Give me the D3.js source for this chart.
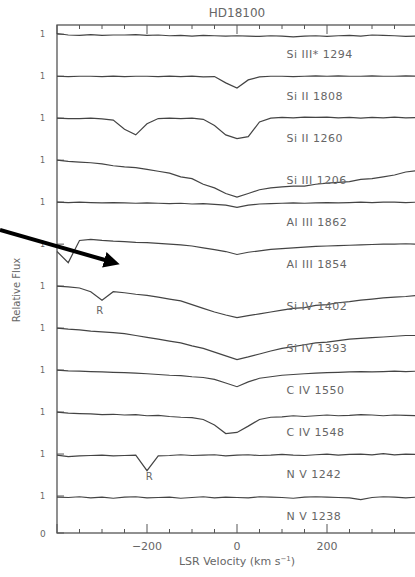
<!DOCTYPE html><html><head><meta charset="utf-8">
<script src="https://cdn.jsdelivr.net/npm/d3@7"></script>
<style>body{margin:0;background:#fff}text{font-family:"DejaVu Sans",sans-serif;fill:#666}</style></head><body>
<svg id="c" width="415" height="577"></svg>
<script>
const velocities=d3.range(-400,401,25);
const lineNames=["Si III* 1294","Si II 1808","Si II 1260","Si III 1206","Al III 1862","Al III 1854","Si IV 1402","Si IV 1393","C IV 1550","C IV 1548","N V 1242","N V 1238"];
const fluxSiIIIs1294=[1.02,0.98,0.97,0.99,0.97,0.98,0.98,0.99,0.97,0.98,0.96,0.97,0.95,0.97,0.96,0.95,0.96,0.95,0.94,0.96,0.95,0.93,0.95,0.96,0.94,0.96,0.97,0.95,0.98,0.97,0.96,0.94,0.95];
const fluxSiII1808=[1,0.99,1,1,0.99,1,0.99,1,1,0.99,1,0.99,1,0.98,0.99,0.82,0.68,0.9,0.98,1,1,0.99,1,1.01,1,1.01,1,1,1.01,1,1,1.01,1];
const fluxSiII1260=[1,0.99,0.99,1,0.98,0.95,0.7,0.55,0.85,0.99,1,0.99,1,0.97,0.8,0.55,0.45,0.5,0.9,1.0,1.02,1.01,1.03,1.02,1.03,1.01,1.02,1.0,1.02,1.01,1.03,1.01,1.02];
const fluxSiIII1206=[1.0,0.97,0.95,0.93,0.9,0.85,0.82,0.8,0.75,0.7,0.65,0.55,0.5,0.35,0.25,0.1,0.0,0.1,0.2,0.25,0.28,0.3,0.3,0.35,0.38,0.4,0.42,0.48,0.5,0.55,0.6,0.68,0.72];
const fluxAlIII1862=[1,0.99,1,0.99,0.98,0.99,0.98,0.97,0.98,0.97,0.96,0.97,0.95,0.96,0.94,0.92,0.86,0.92,0.95,0.96,0.97,0.98,0.97,0.98,0.99,0.98,0.99,1,0.99,1,1,0.99,1];
const fluxAlIII1854=[0.8,0.5,1.1,1.13,1.1,1.08,1.07,1.05,1.04,1.02,1.0,0.98,0.95,0.9,0.85,0.8,0.72,0.78,0.82,0.86,0.88,0.9,0.92,0.94,0.95,0.96,0.97,0.98,0.99,1,1,1.01,1];
const fluxSiIV1402=[1.0,0.98,0.95,0.85,0.62,0.85,0.82,0.78,0.75,0.7,0.65,0.6,0.5,0.4,0.3,0.22,0.15,0.2,0.25,0.3,0.35,0.4,0.42,0.48,0.5,0.55,0.58,0.62,0.65,0.68,0.7,0.72,0.75];
const fluxSiIV1393=[1.0,0.97,0.95,0.92,0.9,0.88,0.85,0.8,0.75,0.7,0.65,0.6,0.52,0.45,0.35,0.25,0.15,0.22,0.3,0.38,0.45,0.5,0.55,0.6,0.62,0.66,0.7,0.72,0.74,0.76,0.78,0.8,0.8];
const fluxCIV1550=[1,0.98,0.97,0.96,0.95,0.94,0.93,0.92,0.9,0.88,0.86,0.85,0.82,0.8,0.75,0.65,0.55,0.68,0.78,0.82,0.86,0.88,0.9,0.92,0.93,0.94,0.95,0.96,0.95,0.96,0.97,0.96,0.97];
const fluxCIV1548=[1,0.97,0.96,0.95,0.93,0.94,0.92,0.93,0.9,0.91,0.88,0.86,0.85,0.8,0.65,0.42,0.45,0.62,0.8,0.86,0.87,0.9,0.88,0.9,0.92,0.9,0.91,0.93,0.92,0.9,0.92,0.91,0.9];
const fluxNV1242=[0.97,0.93,0.95,0.96,0.97,0.95,0.96,0.97,0.55,0.95,0.96,0.98,0.96,0.97,0.98,0.95,0.97,0.98,0.96,0.97,0.99,0.97,0.96,0.98,1.0,0.97,0.99,1.0,0.98,1.01,0.98,1.0,0.99];
const fluxNV1238=[0.97,0.96,0.98,0.95,0.97,0.94,0.97,0.98,0.95,0.96,0.97,0.94,0.96,0.98,0.95,0.97,0.96,0.95,0.98,0.97,0.96,0.94,0.97,0.98,0.97,0.96,0.95,0.9,0.96,0.98,0.97,0.95,0.97];
const allFlux=[fluxSiIIIs1294,fluxSiII1808,fluxSiII1260,fluxSiIII1206,fluxAlIII1862,fluxAlIII1854,fluxSiIV1402,fluxSiIV1393,fluxCIV1550,fluxCIV1548,fluxNV1242,fluxNV1238];
const offsetStep=1.135;
const svg=d3.select("#c");
const pL=57,pR=417,pT=25,pB=533;
const x=d3.scaleLinear().domain([-400,400]).range([pL,pR]);
const n=allFlux.length;
const y=d3.scaleLinear().domain([0,1+(n-1)*offsetStep+0.25]).range([pB,pT]);
const g="#555";
svg.append("rect").attr("x",pL).attr("y",pT).attr("width",pR-pL).attr("height",pB-pT).attr("fill","none").attr("stroke",g).attr("stroke-width",1.3);
d3.range(-400,401,50).forEach(v=>{const L=v%200===0?9:4;
 svg.append("line").attr("x1",x(v)).attr("x2",x(v)).attr("y1",pB).attr("y2",pB-L).attr("stroke",g);
 svg.append("line").attr("x1",x(v)).attr("x2",x(v)).attr("y1",pT).attr("y2",pT+L).attr("stroke",g);});
[-200,0,200].forEach(v=>svg.append("text").attr("x",x(v)).attr("y",pB+17).attr("text-anchor","middle").attr("font-size",11).text(v===-200?"\u2212200":v));
svg.append("text").attr("x",237).attr("y",565).attr("text-anchor","middle").attr("font-size",11).html('LSR Velocity (km s<tspan dy="-4" font-size="7">\u22121</tspan><tspan dy="4">)</tspan>');
svg.append("text").attr("x",237).attr("y",17).attr("text-anchor","middle").attr("font-size",12).text("HD18100");
svg.append("text").attr("transform","translate(20,290) rotate(-90)").attr("text-anchor","middle").attr("font-size",10).text("Relative Flux");
svg.append("line").attr("x1",pL).attr("x2",pL+7).attr("y1",y(0)).attr("y2",y(0)).attr("stroke",g);
svg.append("text").attr("x",40).attr("y",y(0)+4).attr("font-size",9).text("0");
const line=d3.line().x((d,i)=>x(velocities[i])).y(d=>d);
allFlux.forEach((f,k)=>{const base=(n-1-k)*offsetStep;
 svg.append("line").attr("x1",pL).attr("x2",pL+7).attr("y1",y(base+1)).attr("y2",y(base+1)).attr("stroke",g);
 svg.append("text").attr("x",40).attr("y",y(base+1)+3).attr("font-size",8).text("1");
 svg.append("path").attr("d",line(f.map(v=>y(base+v)))).attr("fill","none").attr("stroke","#444").attr("stroke-width",1.2);
 svg.append("text").attr("x",x(110)).attr("y",y(base+1)+24).attr("font-size",11).attr("letter-spacing",0.5).text(lineNames[k]);
});
svg.append("text").attr("x",x(-305)).attr("y",y(5*offsetStep+0.25)).attr("text-anchor","middle").attr("font-size",10).text("R");
svg.append("text").attr("x",x(-195)).attr("y",y(offsetStep+0.3)).attr("text-anchor","middle").attr("font-size",10).text("R");
svg.append("defs").append("marker").attr("id","ah").attr("viewBox","0 0 10 10").attr("refX",5).attr("refY",5).attr("markerWidth",4).attr("markerHeight",4).attr("orient","auto").append("path").attr("d","M0,0L10,5L0,10z").attr("fill","#000");
svg.append("line").attr("x1",0).attr("y1",230).attr("x2",112).attr("y2",262).attr("stroke","#000").attr("stroke-width",4).attr("marker-end","url(#ah)");
</script></body></html>
